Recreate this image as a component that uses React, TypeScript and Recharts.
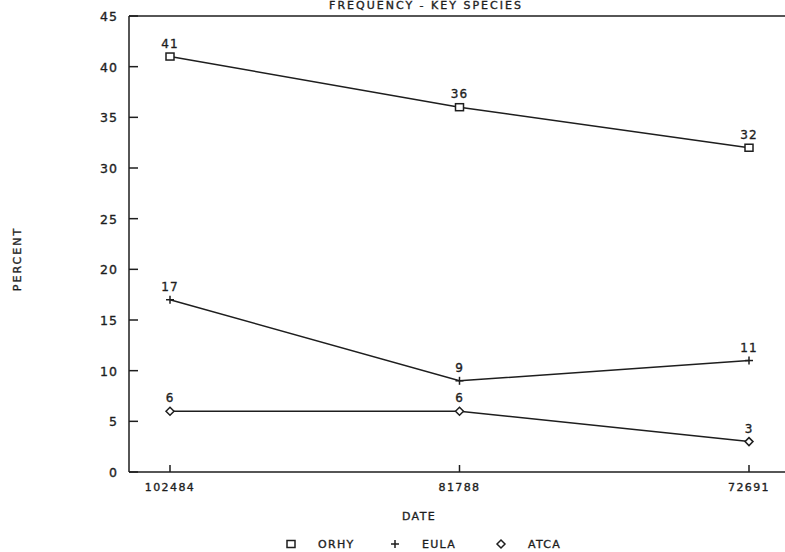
import React from 'react';
import { LineChart, Line, XAxis, YAxis, ReferenceLine, LabelList } from 'recharts';

const dates = ['102484', '81788', '72691'];
const orhy = [41, 36, 32];
const eula = [17, 9, 11];
const atca = [6, 6, 3];
const yTicks = [0, 5, 10, 15, 20, 25, 30, 35, 40, 45];
const seriesNames = ['ORHY', 'EULA', 'ATCA'];

const data = dates.map((d, i) => ({ date: d, ORHY: orhy[i], EULA: eula[i], ATCA: atca[i] }));

const INK = '#1e1e1e';
const FONT = '"DejaVu Sans", sans-serif';
const SW = 1.5;
const TS = 0.35;

const drawMarker = (kind: string, cx: number, cy: number) => {
  if (kind === 'ORHY') return <rect x={cx - 4} y={cy - 3.5} width={8} height={7} fill="#fff" stroke={INK} strokeWidth={SW} />;
  if (kind === 'EULA')
    return (
      <g stroke={INK} strokeWidth={SW}>
        <line x1={cx - 4} y1={cy} x2={cx + 4} y2={cy} />
        <line x1={cx} y1={cy - 4} x2={cx} y2={cy + 4} />
      </g>
    );
  return <polygon points={`${cx - 4},${cy} ${cx},${cy - 4} ${cx + 4},${cy} ${cx},${cy + 4}`} fill="#fff" stroke={INK} strokeWidth={SW} />;
};

const makeDot = (kind: string) => (p: any) => {
  const { cx, cy, index } = p;
  if (cx == null || cy == null) return <g key={index} />;
  return <g key={`${kind}-${index}`}>{drawMarker(kind, cx, cy)}</g>;
};

const YTick = (p: any) => {
  const { x, y, payload } = p;
  return (
    <g>
      <line x1={x} y1={y} x2={x + 9} y2={y} stroke={INK} strokeWidth={SW} />
      <text x={x - 11} y={y + 5} textAnchor="end" fontFamily={FONT} fontSize={12.5} letterSpacing={1} fill={INK} stroke={INK} strokeWidth={TS}>{payload.value}</text>
    </g>
  );
};
const XTick = (p: any) => {
  const { x, y, payload } = p;
  return (
    <g>
      <line x1={x} y1={y} x2={x} y2={y - 7} stroke={INK} strokeWidth={SW} />
      <text x={x} y={y + 19} textAnchor="middle" fontFamily={FONT} fontSize={11} letterSpacing={1.4} fill={INK} stroke={INK} strokeWidth={TS}>{payload.value}</text>
    </g>
  );
};

const legendX = [291, 395, 501];

export default function App() {
  return (
    <div style={{ position: 'absolute', left: 0, top: 0, width: 785, height: 552, background: '#fff' }}>
      <LineChart width={785} height={552} data={data} margin={{ top: 16, right: 0, bottom: 50, left: 69 }}>
        <text x={426} y={9} textAnchor="middle" fontFamily={FONT} fontSize={11} letterSpacing={2} fill={INK} stroke={INK} strokeWidth={TS}>FREQUENCY - KEY SPECIES</text>
        <text x={21} y={259} textAnchor="middle" fontFamily={FONT} fontSize={11} letterSpacing={2} fill={INK} stroke={INK} strokeWidth={TS} transform="rotate(-90 21 259)">PERCENT</text>
        <text x={419} y={520} textAnchor="middle" fontFamily={FONT} fontSize={11} letterSpacing={1.4} fill={INK} stroke={INK} strokeWidth={TS}>DATE</text>
        {seriesNames.map((k, i) => (
          <g key={k}>
            {drawMarker(k, legendX[i], 544)}
            <text x={legendX[i] + 27} y={548} fontFamily={FONT} fontSize={11} letterSpacing={1.3} fill={INK} stroke={INK} strokeWidth={TS}>{k}</text>
          </g>
        ))}
        <XAxis dataKey="date" type="category" height={30} padding={{ left: 41, right: 36 }} tickSize={0} tickMargin={0} tick={<XTick />} stroke={INK} strokeWidth={SW} interval={0} />
        <YAxis domain={[0, 45]} ticks={yTicks} tickSize={0} tickMargin={0} tick={<YTick />} stroke={INK} strokeWidth={SW} width={60} interval={0} />
        <ReferenceLine y={45} stroke={INK} strokeWidth={SW} />
        <Line dataKey="ORHY" stroke={INK} strokeWidth={SW} dot={makeDot('ORHY')} isAnimationActive={false}>
          <LabelList dataKey="ORHY" position="top" offset={9} fontFamily={FONT} fontSize={12} letterSpacing={1} fill={INK} stroke={INK} strokeWidth={TS} />
        </Line>
        <Line dataKey="EULA" stroke={INK} strokeWidth={SW} dot={makeDot('EULA')} isAnimationActive={false}>
          <LabelList dataKey="EULA" position="top" offset={9} fontFamily={FONT} fontSize={12} letterSpacing={1} fill={INK} stroke={INK} strokeWidth={TS} />
        </Line>
        <Line dataKey="ATCA" stroke={INK} strokeWidth={SW} dot={makeDot('ATCA')} isAnimationActive={false}>
          <LabelList dataKey="ATCA" position="top" offset={9} fontFamily={FONT} fontSize={12} letterSpacing={1} fill={INK} stroke={INK} strokeWidth={TS} />
        </Line>
      </LineChart>
    </div>
  );
}
